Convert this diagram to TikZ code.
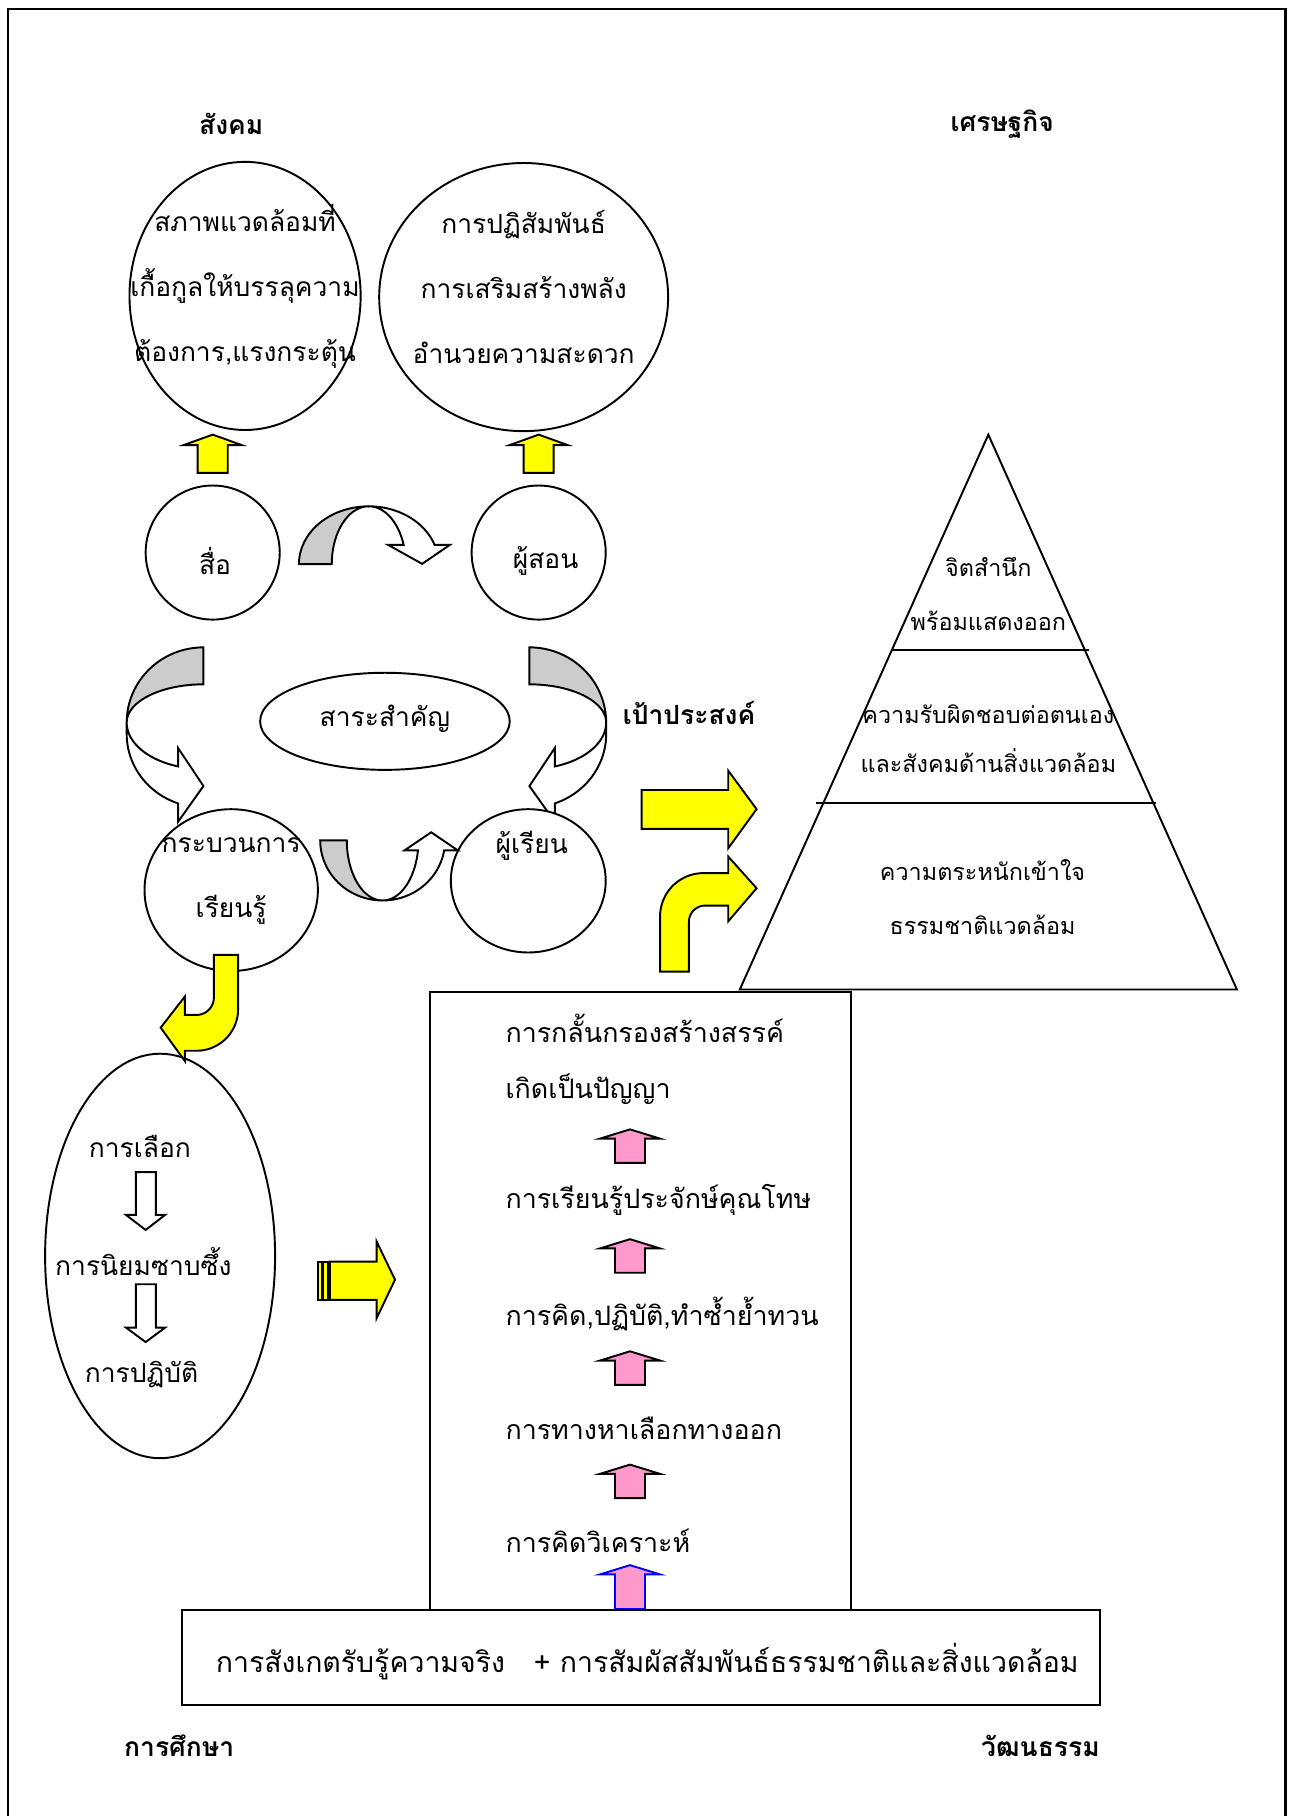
\documentclass[tikz,border=0pt]{standalone}
\usepackage{fontspec}
\setmainfont[Script=Thai]{Loma}
\usetikzlibrary{shapes.geometric}
\definecolor{yelA}{HTML}{FFFF00}
\definecolor{grayA}{HTML}{CCCCCC}
\definecolor{pinkA}{HTML}{FF99CC}
\newcommand\UpArr[7]{\draw[#1] ({#2-#6},#4) -- ({#2-#6},{#3+#7}) -- ({#2-#5},{#3+#7}) -- (#2,#3) -- ({#2+#5},{#3+#7}) -- ({#2+#6},{#3+#7}) -- ({#2+#6},#4) -- cycle;}
\begin{document}
\begin{tikzpicture}[x=0.02cm,y=-0.02cm,
  ol/.style={draw=black,line width=0.95pt,line join=miter},
  yel/.style={ol,fill=yelA},
  gry/.style={ol,fill=grayA},
  wht/.style={ol,fill=white},
  pnk/.style={ol,fill=pinkA},
  blu/.style={draw=blue,line width=0.95pt,fill=pinkA},
  oval/.style={ol,ellipse,inner sep=0pt,fill=white},
  rnd/.style={ol,circle,inner sep=0pt,fill=white},
  txt/.style={font=\fontsize{13}{32}\selectfont,align=center,inner sep=0pt},
  ptxt/.style={font=\fontsize{11.5}{26.5}\selectfont,align=center,inner sep=0pt},
  ltxt/.style={font=\fontsize{13.2}{32}\selectfont,anchor=west,inner sep=0pt},
  lbl/.style={font=\bfseries\fontsize{13}{16}\selectfont,inner sep=0pt}]
\useasboundingbox (0,0) rectangle (1120,1571);
% frame
\draw[line width=1.2pt] (7,1590) -- (7,8) -- (1112,8) -- (1112,1590);
% corner labels
\node[lbl] (soc) at (200,107) {สังคม};
\node[lbl] (eco) at (867,107) {เศรษฐกิจ};
\node[lbl] (goal) at (596,617) {เป้าประสงค์};
\node[lbl] (edu) at (155,1510) {การศึกษา};
\node[lbl] (cul) at (900,1510) {วัฒนธรรม};
% big circles
\node[oval,minimum width=4cm,minimum height=4.64cm] (c1) at (212,256) {};
\node[txt] (c1t) at (212,248) {สภาพแวดล้อมที่\\เกื้อกูลให้บรรลุความ\\ต้องการ,แรงกระตุ้น};
\node[oval,minimum width=5cm,minimum height=4.64cm] (c2) at (453,257) {};
\node[txt] (c2t) at (453,248) {การปฏิสัมพันธ์\\การเสริมสร้างพลัง\\อำนวยความสะดวก};
% yellow up arrows
\UpArr{yel}{184}{376}{409}{25}{13}{9}
\UpArr{yel}{466}{376}{409}{25}{13}{9}
% small circles
\node[rnd,minimum size=2.32cm] (s1) at (184,478) {};
\node[txt] (s1t) at (186,485) {สื่อ};
\node[rnd,minimum size=2.32cm] (s2) at (466,478) {};
\node[txt] (s2t) at (472,485) {ผู้สอน};
% top curved arrow
\draw[gry] (258.6,488) -- plot[domain=180:270,samples=25,variable=\t] ({319+60.4*cos(\t)},{488+50*sin(\t)}) -- plot[domain=270:180,samples=25,variable=\t] ({319+32*cos(\t)},{488+50*sin(\t)}) -- cycle;
\draw[wht] (319,438) -- plot[domain=270:340.6,samples=25,variable=\t] ({319+60.4*cos(\t)},{488+50*sin(\t)}) -- (389.1,471.4) -- (365.2,487.8) -- (335.8,471.4) -- plot[domain=340.6:270,samples=25,variable=\t] ({319+32*cos(\t)},{488+50*sin(\t)}) -- cycle;
% left and right curved arrows
\foreach \sc/\sh in {1/0,-1/634}{
\begin{scope}[shift={(\sh,0)},xscale=\sc]
\draw[gry] plot[domain=270:180,samples=25,variable=\t] ({176+66.4*cos(\t)},{625+65*sin(\t)}) -- plot[domain=180:270,samples=25,variable=\t] ({176+66.4*cos(\t)},{625+33*sin(\t)}) -- cycle;
\draw[wht] (109.6,625) -- (109.6,635) -- plot[domain=180:109.3,samples=25,variable=\t] ({176+66.4*cos(\t)},{635+63.6*sin(\t)}) -- (154,711) -- (176,680) -- (154,647) -- plot[domain=109.3:180,samples=25,variable=\t] ({176+66.4*cos(\t)},{625+40.3*sin(\t)}) -- cycle;
\end{scope}}
% central ellipse
\node[oval,minimum width=4.32cm,minimum height=1.68cm] (core) at (333,624) {};
\node[txt] (coret) at (333,622) {สาระสำคัญ};
% process and learner circles
\node[oval,minimum width=3cm,minimum height=2.8cm] (proc) at (200,770) {};
\node[txt] (proct) at (200,762) {กระบวนการ\\เรียนรู้};
\node[oval,minimum width=2.68cm,minimum height=2.48cm] (lrn) at (457,762) {};
\node[txt] (lrnt) at (460,732) {ผู้เรียน};
% bottom curved arrow
\draw[gry] (277,727) -- plot[domain=180:90,samples=25,variable=\t] ({331+54*cos(\t)},{727+52*sin(\t)}) -- plot[domain=90:180,samples=25,variable=\t] ({331+31*cos(\t)},{727+52*sin(\t)}) -- cycle;
\draw[wht] (331,779) -- plot[domain=90:9.5,samples=25,variable=\t] ({331+54*cos(\t)},{727+52*sin(\t)}) -- (396,735.6) -- (373,720) -- (350,735.6) -- plot[domain=9.5:90,samples=25,variable=\t] ({331+31*cos(\t)},{727+52*sin(\t)}) -- cycle;
% big ellipse with steps
\node[oval,minimum width=3.98cm,minimum height=7cm] (ch) at (138.5,1086.5) {};
% yellow bent arrow down-left
\draw[yel] (185,826) -- (206,826) -- (206,873) -- plot[domain=0:90,samples=20,variable=\t] ({170+36*cos(\t)},{873+36*sin(\t)}) -- (160,909) -- (160,918) -- (139,889) -- (160,862) -- (160,878) -- (170,878) -- plot[domain=90:0,samples=20,variable=\t] ({170+15*cos(\t)},{863+15*sin(\t)}) -- cycle;
\node[txt] (ch1) at (121,992) {การเลือก};
\node[txt] (ch2) at (124,1091) {การนิยมซาบซึ้ง};
\node[txt] (ch3) at (122.5,1189) {การปฏิบัติ};
\draw[wht] (117.6,1014) -- (134.9,1014) -- (134.9,1051) -- (142.8,1051) -- (126,1064) -- (109,1051) -- (117.6,1051) -- cycle;
\draw[wht] (117.6,1111) -- (134.9,1111) -- (134.9,1148.5) -- (142.8,1148.5) -- (126,1161) -- (109,1148.5) -- (117.6,1148.5) -- cycle;
% striped arrow
\draw[yel] (275.4,1091.4) rectangle (278.2,1124.5);
\draw[yel] (279.6,1091.4) rectangle (283.9,1124.5);
\draw[yel] (285.3,1091.4) -- (325.8,1091.4) -- (325.8,1074) -- (341.7,1107) -- (325.8,1140.4) -- (325.8,1124.5) -- (285.3,1124.5) -- cycle;
% stages rectangle
\node[ol,fill=white,minimum width=7.28cm,minimum height=10.7cm,inner sep=0pt] (stg) at (554,1125.5) {};
\node[ltxt] (t1) at (437,890) {การกลั้นกรองสร้างสรรค์};
\node[ltxt] (t2) at (437,942) {เกิดเป็นปัญญา};
\node[ltxt] (t3) at (437,1038) {การเรียนรู้ประจักษ์คุณโทษ};
\node[ltxt] (t4) at (437,1137) {การคิด,ปฏิบัติ,ทำซ้ำย้ำทวน};
\node[ltxt] (t5) at (437,1236) {การทางหาเลือกทางออก};
\node[ltxt] (t6) at (437,1333) {การคิดวิเคราะห์};
\UpArr{pnk}{545}{977}{1006}{26}{13}{8}
\UpArr{pnk}{545}{1072}{1101}{26}{13}{8}
\UpArr{pnk}{545}{1169}{1198}{26}{13}{8}
\UpArr{pnk}{545}{1267}{1296}{26}{13}{8}
\UpArr{blu}{545}{1354}{1392}{26}{13}{8}
% observation box
\node[ol,fill=white,minimum width=15.9cm,minimum height=1.64cm,inner sep=0pt] (obs) at (554.5,1434) {};
\node[txt,font=\fontsize{14}{20}\selectfont] (obst) at (560,1437) {การสังเกตรับรู้ความจริง\ \ \ + การสัมผัสสัมพันธ์ธรรมชาติและสิ่งแวดล้อม};
% pyramid
\coordinate (pa) at (855,376);
\coordinate (pl) at (640,856);
\coordinate (pr) at (1070,856);
\draw[ol] (pa) -- (pl) -- (pr) -- cycle;
\coordinate (d1l) at (772,562);
\coordinate (d1r) at (942,562);
\coordinate (d2l) at (706,695);
\coordinate (d2r) at (1000,695);
\draw[ol] (d1l) -- (d1r);
\draw[ol] (d2l) -- (d2r);
\node[ptxt] (p1) at (855,514) {จิตสำนึก\\พร้อมแสดงออก};
\node[ptxt,font=\fontsize{11.5}{24}\selectfont] (p2) at (855,639) {ความรับผิดชอบต่อตนเอง\\และสังคมด้านสิ่งแวดล้อม};
\node[ptxt] (p3) at (850,776) {ความตระหนักเข้าใจ\\ธรรมชาติแวดล้อม};
% goal arrows
\draw[yel] (555,683.4) -- (630,683.4) -- (630,666.7) -- (654.5,700) -- (630,733.8) -- (630,717) -- (555,717) -- cycle;
\draw[yel] (571,840.5) -- (571,792.8) -- plot[domain=180:270,samples=20,variable=\t] ({608.5+37.5*cos(\t)},{792.8+37.5*sin(\t)}) -- (630,755.3) -- (630,741) -- (654.5,768.4) -- (630,797) -- (630,783.4) -- (610,783.4) -- plot[domain=270:180,samples=20,variable=\t] ({610+14*cos(\t)},{797.4+14*sin(\t)}) -- (596,840.5) -- cycle;
\end{tikzpicture}
\end{document}
